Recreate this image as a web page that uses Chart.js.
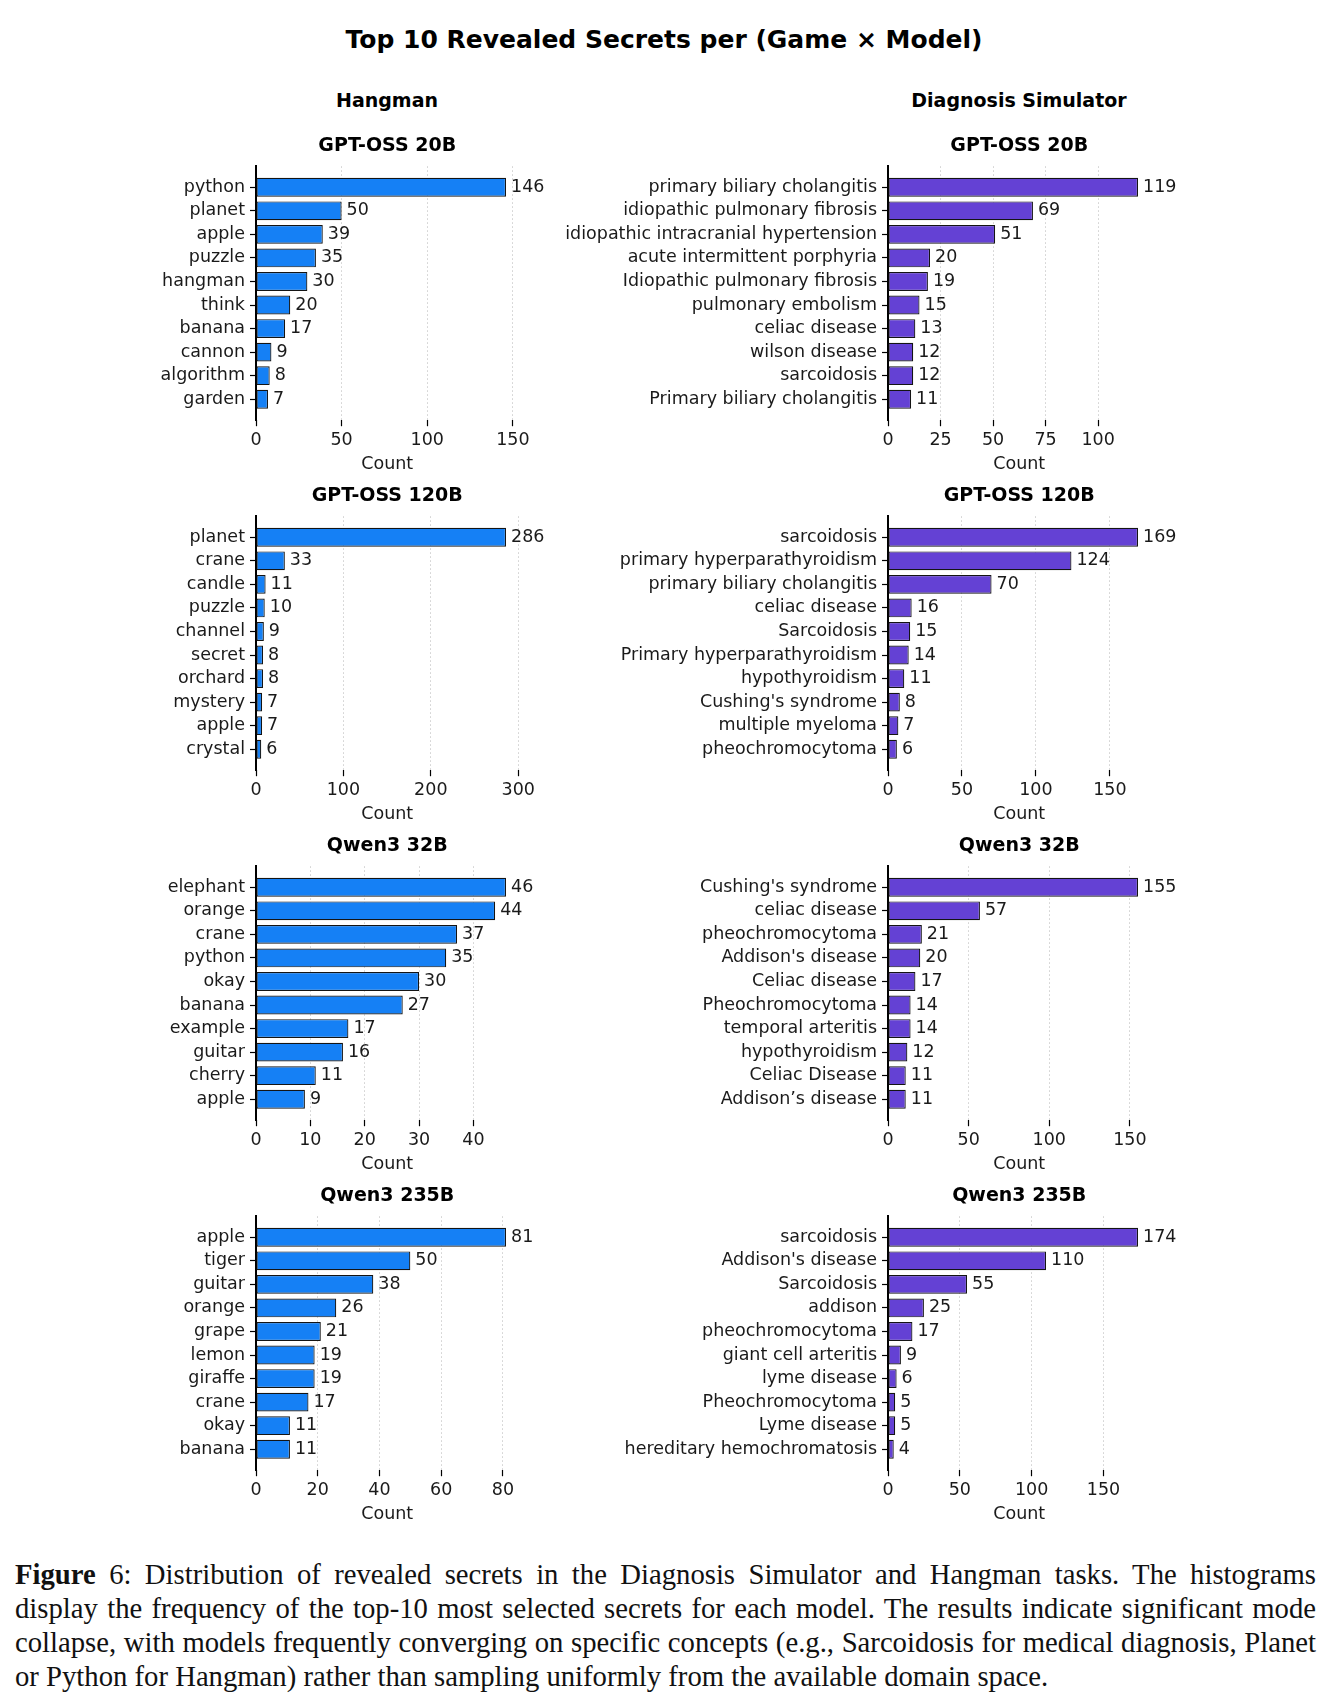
<!DOCTYPE html>
<html>
<head>
<meta charset="utf-8">
<script src="https://cdn.jsdelivr.net/npm/chart.js@4.4.1/dist/chart.umd.min.js"></script>
<style>
body { margin: 0; background: #fff; width: 1335px; height: 1703px; position: relative; overflow: hidden; font-family: "DejaVu Sans", sans-serif; }
.t { position: absolute; font-weight: bold; color: #000; white-space: nowrap; line-height: 1; transform: translate(-50%, -50%); }
canvas { position: absolute; }
#caption { position: absolute; left: 15px; top: 1557px; width: 1301px; font-family: "Liberation Serif", serif; color: #111; }
#caption div { height: 34px; line-height: 34px; white-space: nowrap; text-align: justify; text-align-last: justify; }
#caption div.last { text-align-last: left; }
</style>
</head>
<body>
<div class="t" style="left:664px;top:39px;font-size:25px">Top 10 Revealed Secrets per (Game × Model)</div>
<div class="t" style="left:387px;top:100px;font-size:19px">Hangman</div>
<div class="t" style="left:1019px;top:100px;font-size:19px">Diagnosis Simulator</div>
<div id="caption"></div>

<script>
// hangman panels
const hm20Labels = ['python', 'planet', 'apple', 'puzzle', 'hangman', 'think', 'banana', 'cannon', 'algorithm', 'garden'];
const hm20Counts = [146, 50, 39, 35, 30, 20, 17, 9, 8, 7];
const hm20Ticks = [0, 50, 100, 150];

const hm120Labels = ['planet', 'crane', 'candle', 'puzzle', 'channel', 'secret', 'orchard', 'mystery', 'apple', 'crystal'];
const hm120Counts = [286, 33, 11, 10, 9, 8, 8, 7, 7, 6];
const hm120Ticks = [0, 100, 200, 300];

const hm32Labels = ['elephant', 'orange', 'crane', 'python', 'okay', 'banana', 'example', 'guitar', 'cherry', 'apple'];
const hm32Counts = [46, 44, 37, 35, 30, 27, 17, 16, 11, 9];
const hm32Ticks = [0, 10, 20, 30, 40];

const hm235Labels = ['apple', 'tiger', 'guitar', 'orange', 'grape', 'lemon', 'giraffe', 'crane', 'okay', 'banana'];
const hm235Counts = [81, 50, 38, 26, 21, 19, 19, 17, 11, 11];
const hm235Ticks = [0, 20, 40, 60, 80];

// diagnosis panels
const dx20Labels = ['primary biliary cholangitis', 'idiopathic pulmonary fibrosis', 'idiopathic intracranial hypertension',
  'acute intermittent porphyria', 'Idiopathic pulmonary fibrosis', 'pulmonary embolism', 'celiac disease',
  'wilson disease', 'sarcoidosis', 'Primary biliary cholangitis'];
const dx20Counts = [119, 69, 51, 20, 19, 15, 13, 12, 12, 11];
const dx20Ticks = [0, 25, 50, 75, 100];

const dx120Labels = ['sarcoidosis', 'primary hyperparathyroidism', 'primary biliary cholangitis', 'celiac disease',
  'Sarcoidosis', 'Primary hyperparathyroidism', 'hypothyroidism', "Cushing's syndrome", 'multiple myeloma', 'pheochromocytoma'];
const dx120Counts = [169, 124, 70, 16, 15, 14, 11, 8, 7, 6];
const dx120Ticks = [0, 50, 100, 150];

const dx32Labels = ["Cushing's syndrome", 'celiac disease', 'pheochromocytoma', "Addison's disease", 'Celiac disease',
  'Pheochromocytoma', 'temporal arteritis', 'hypothyroidism', 'Celiac Disease', 'Addison\u2019s disease'];
const dx32Counts = [155, 57, 21, 20, 17, 14, 14, 12, 11, 11];
const dx32Ticks = [0, 50, 100, 150];

const dx235Labels = ['sarcoidosis', "Addison's disease", 'Sarcoidosis', 'addison', 'pheochromocytoma', 'giant cell arteritis',
  'lyme disease', 'Pheochromocytoma', 'Lyme disease', 'hereditary hemochromatosis'];
const dx235Counts = [174, 110, 55, 25, 17, 9, 6, 5, 5, 4];
const dx235Ticks = [0, 50, 100, 150];

const modelNames = ['GPT-OSS 20B', 'GPT-OSS 120B', 'Qwen3 32B', 'Qwen3 235B'];

const captionLines = [
  '<b>Figure</b> 6: Distribution of revealed secrets in the Diagnosis Simulator and Hangman tasks. The histograms',
  'display the frequency of the top-10 most selected secrets for each model. The results indicate significant mode',
  'collapse, with models frequently converging on specific concepts (e.g., Sarcoidosis for medical diagnosis, Planet',
  'or Python for Hangman) rather than sampling uniformly from the available domain space.'
];

Chart.defaults.font.family = '"DejaVu Sans", sans-serif';

const barColors = ['#1580f5', '#6441d4'];
const colLeft = [0, 540];
const colWidth = [600, 760];
const axisX = [256, 888];
const areaW = 262.5;
const rowTop = 125, rowStep = 350, canvasH = 354.5;
const tickFont = { size: 17.5 };

// number at the end of each bar
const valueLabels = {
  id: 'valueLabels',
  afterDatasetsDraw(chart) {
    const ctx = chart.ctx;
    const ds = chart.data.datasets[0];
    ctx.save();
    ctx.font = '17.5px "DejaVu Sans"';
    ctx.fillStyle = '#1a1a1a';
    ctx.textAlign = 'left';
    ctx.textBaseline = 'middle';
    chart.getDatasetMeta(0).data.forEach((bar, i) => {
      ctx.fillText(ds.data[i].x, bar.x + 5, bar.y);
    });
    ctx.restore();
  }
};

function panel(labels, counts, ticks, col, row) {
  const cv = document.createElement('canvas');
  cv.width = colWidth[col];
  cv.height = canvasH;
  cv.style.left = colLeft[col] + 'px';
  cv.style.top = (rowTop + row * rowStep) + 'px';
  document.body.appendChild(cv);
  const yw = axisX[col] - colLeft[col];

  new Chart(cv, {
    type: 'bar',
    data: {
      datasets: [{
        data: counts.map((v, i) => ({ x: v, y: i })),
        backgroundColor: barColors[col],
        borderColor: '#141414',
        borderWidth: 1.2,
        borderSkipped: false,
        barPercentage: 0.8,
        categoryPercentage: 1
      }]
    },
    options: {
      indexAxis: 'y',
      responsive: false,
      animation: false,
      layout: { padding: { left: 0, top: 0, bottom: 0, right: colWidth[col] - yw - areaW } },
      plugins: {
        legend: { display: false },
        tooltip: { enabled: false },
        title: {
          display: true, text: modelNames[row], fullSize: false, color: '#000',
          font: { size: 19, weight: 'bold' }, padding: { top: 10, bottom: 8.5 }
        }
      },
      scales: {
        x: {
          type: 'linear', min: 0, max: Math.max(...counts) * 1.05, bounds: 'data',
          afterBuildTicks: s => { s.ticks = ticks.map(v => ({ value: v })); },
          afterFit: s => { s.height = 58.8; },
          grid: { color: 'rgba(0,0,0,0.2)', lineWidth: 1, drawTicks: true, tickLength: 6, tickColor: '#000', tickWidth: 1.2 },
          border: { display: false, dash: [1.5, 2.5] },
          ticks: { autoSkip: false, maxRotation: 0, padding: 4, color: '#1a1a1a', font: tickFont },
          title: { display: true, text: 'Count', color: '#1a1a1a', font: tickFont, padding: { top: 2, bottom: 4 } }
        },
        y: {
          type: 'linear', reverse: true, offset: false, min: -0.89, max: 9.89, bounds: 'data',
          afterBuildTicks: s => { s.ticks = labels.map((_, i) => ({ value: i })); },
          afterFit: s => { s.width = yw; },
          grid: { offset: false, drawOnChartArea: false, drawTicks: true, tickLength: 6, tickColor: '#000', tickWidth: 1.2 },
          border: { display: true, color: '#000', width: 2 },
          ticks: { autoSkip: false, padding: 5, color: '#1a1a1a', font: tickFont, callback: v => labels[v] }
        }
      }
    },
    plugins: [valueLabels]
  });
}

panel(hm20Labels, hm20Counts, hm20Ticks, 0, 0);
panel(hm120Labels, hm120Counts, hm120Ticks, 0, 1);
panel(hm32Labels, hm32Counts, hm32Ticks, 0, 2);
panel(hm235Labels, hm235Counts, hm235Ticks, 0, 3);
panel(dx20Labels, dx20Counts, dx20Ticks, 1, 0);
panel(dx120Labels, dx120Counts, dx120Ticks, 1, 1);
panel(dx32Labels, dx32Counts, dx32Ticks, 1, 2);
panel(dx235Labels, dx235Counts, dx235Ticks, 1, 3);

// caption: size the serif text so the last line ends near x=1084 and the others fit 1301px
const mctx = document.createElement('canvas').getContext('2d');
mctx.font = '100px "Liberation Serif"';
const plain = captionLines.map(s => s.replace(/<[^>]+>/g, ''));
let capSize = 1069 / mctx.measureText(plain[3].replace(' space.', '')).width * 100;
plain.slice(0, 3).forEach(s => {
  capSize = Math.min(capSize, 1295 / mctx.measureText(s).width * 100);
});
const cap = document.getElementById('caption');
cap.style.fontSize = capSize.toFixed(2) + 'px';
captionLines.forEach((s, i) => {
  const d = document.createElement('div');
  d.innerHTML = s;
  if (i === captionLines.length - 1) d.className = 'last';
  cap.appendChild(d);
});
</script>
</body>
</html>
